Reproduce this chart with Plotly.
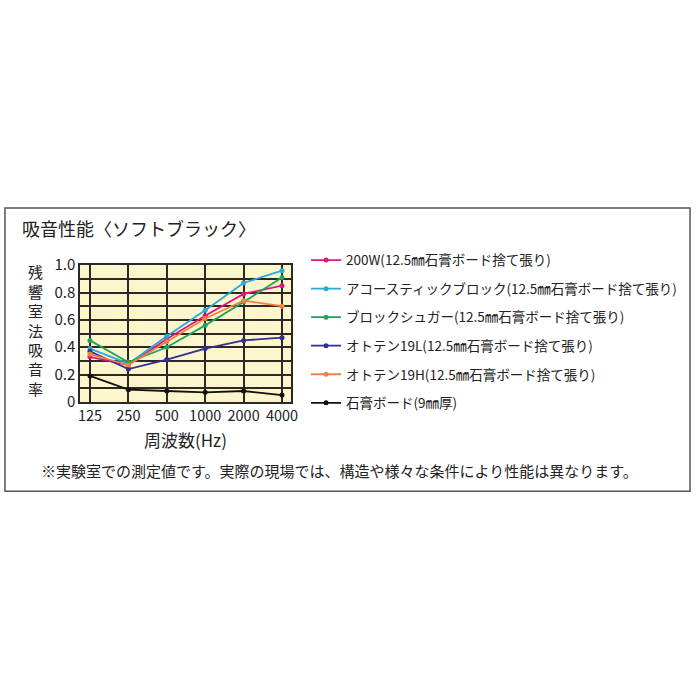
import plotly.graph_objects as go

# 周波数 (Hz)
freq = ["125", "250", "500", "1000", "2000", "4000"]

# 各製品の吸音率
v_200w = [0.33, 0.27, 0.46, 0.63, 0.79, 0.85]
v_acoustic = [0.39, 0.28, 0.48, 0.67, 0.87, 0.96]
v_sugar = [0.45, 0.29, 0.40, 0.56, 0.73, 0.91]
v_19l = [0.37, 0.24, 0.31, 0.39, 0.45, 0.47]
v_19h = [0.35, 0.27, 0.44, 0.61, 0.74, 0.70]
v_board = [0.19, 0.09, 0.08, 0.07, 0.08, 0.05]

names = [
    "200W(12.5㎜石膏ボード捨て張り)",
    "アコースティックブロック(12.5㎜石膏ボード捨て張り)",
    "ブロックシュガー(12.5㎜石膏ボード捨て張り)",
    "オトテン19L(12.5㎜石膏ボード捨て張り)",
    "オトテン19H(12.5㎜石膏ボード捨て張り)",
    "石膏ボード(9㎜厚)",
]
series = [v_200w, v_acoustic, v_sugar, v_19l, v_19h, v_board]
colors = ["#e4147f", "#2aa7dd", "#20a35a", "#2e3191", "#ef8240", "#111111"]

y_ticks = [0, 0.1, 0.2, 0.3, 0.4, 0.5, 0.6, 0.7, 0.8, 0.9, 1.0]
y_labels = ["0", "", "0.2", "", "0.4", "", "0.6", "", "0.8", "", "1.0"]

font = "Noto Sans CJK JP"
W = 700

fig = go.Figure()
for i, (nm, vals, c) in enumerate(zip(names, series, colors)):
    fig.add_trace(go.Scatter(
        x=freq, y=vals, name=nm, mode="lines+markers",
        line=dict(color=c, width=1.8),
        marker=dict(color=c, size=5),
        legendgroup=str(i),
    ))

# 外枠
fig.add_shape(type="rect", xref="paper", yref="paper",
              x0=3 / W, x1=697 / W, y0=1 - 494 / W, y1=1 - 202 / W,
              line=dict(color="#555555", width=1.5), layer="below")

fig.add_annotation(text="吸音性能〈ソフトブラック〉", xref="paper", yref="paper",
                   x=18 / W, y=1 - 223 / W, xanchor="left", yanchor="middle",
                   showarrow=False, font=dict(size=18, color="#222222"))

# 縦書きの軸タイトル
for k, ch in enumerate("残響室法吸音率"):
    fig.add_annotation(text=ch, xref="paper", yref="paper",
                       x=34 / W, y=1 - (268 + k * 20) / W,
                       xanchor="center", yanchor="middle", borderpad=0,
                       showarrow=False, font=dict(size=15, color="#222222"))

fig.add_annotation(text="周波数(Hz)", xref="paper", yref="paper",
                   x=186 / W, y=1 - 441 / W, xanchor="center", yanchor="middle",
                   borderpad=0, showarrow=False, font=dict(size=17, color="#222222"))

fig.add_annotation(text="※実験室での測定値です。実際の現場では、構造や様々な条件により性能は異なります。",
                   xref="paper", yref="paper",
                   x=37 / W, y=1 - 473 / W, xanchor="left", yanchor="middle",
                   showarrow=False, font=dict(size=15, color="#222222"))

fig.update_layout(
    width=700, height=700,
    margin=dict(l=0, r=0, t=0, b=0),
    paper_bgcolor="white",
    plot_bgcolor="#fdf5cc",
    font=dict(family=font, color="#222222"),
    xaxis=dict(
        domain=[79 / W, 293 / W],
        range=[-0.26, 5.24],
        type="category",
        showgrid=True, gridcolor="#2a2a22", gridwidth=1.5,
        showline=True, linecolor="#2a2a22", linewidth=1.5, mirror=True,
        ticks="", tickangle=0, tickfont=dict(size=14.5), ticklabelstandoff=0,
    ),
    yaxis=dict(
        domain=[1 - 402 / W, 1 - 261 / W],
        range=[0, 1.0],
        tickvals=y_ticks, ticktext=y_labels,
        showgrid=True, gridcolor="#2a2a22", gridwidth=1.5,
        zeroline=False,
        showline=True, linecolor="#2a2a22", linewidth=1.5, mirror=True,
        ticks="", tickfont=dict(size=15),
    ),
    legend=dict(
        x=308 / W, y=1 - 240 / W, xanchor="left", yanchor="top",
        font=dict(size=13.5), tracegroupgap=8,
        bgcolor="rgba(0,0,0,0)", itemwidth=30,
    ),
)

# body の余白とスクロールバーをなくして 700px にぴったり合わせる
fig.write_html(
    "out.html",
    config={"displayModeBar": False},
    post_script="document.body.style.margin='0';document.body.style.overflow='hidden';",
)
